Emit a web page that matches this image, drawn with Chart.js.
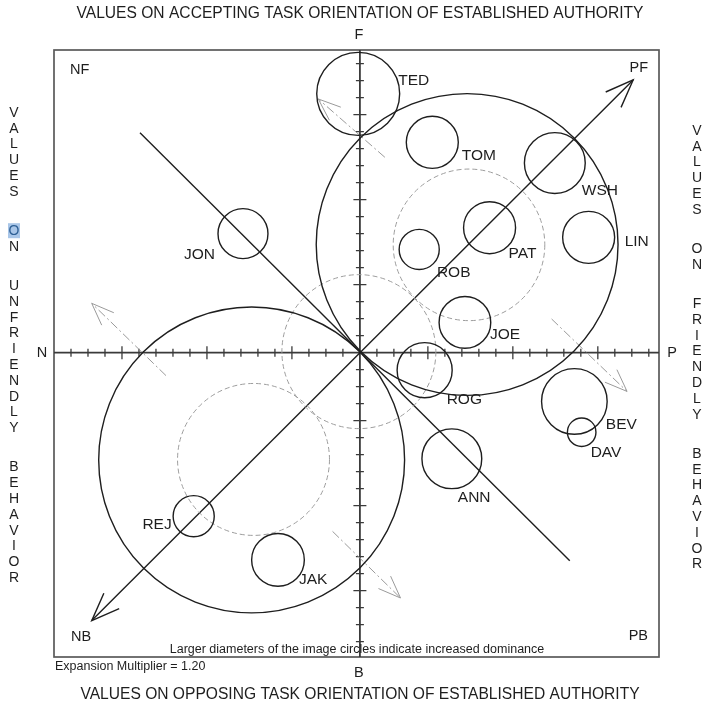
<!DOCTYPE html>
<html>
<head>
<meta charset="utf-8">
<script src="https://cdn.jsdelivr.net/npm/chart.js@4.4.0/dist/chart.umd.min.js"></script>
<style>
  html, body { margin: 0; padding: 0; background: #fff; }
  canvas { display: block; }
</style>
</head>
<body>
<canvas id="field" width="704" height="706"></canvas>
<script>
  // ---------- Data (field units, -18..18) ----------
  const NAMES = ["TED", "TOM", "WSH", "PAT", "LIN", "ROB", "JOE", "ROG", "BEV", "DAV", "ANN", "JON", "REJ", "JAK"];
  const POS_X = [-0.1, 4.26, 11.47, 7.63, 13.46, 3.49, 6.18, 3.81, 12.62, 13.05, 5.41, -6.88, -9.78, -4.82];
  const POS_Y = [15.22, 12.37, 11.15, 7.35, 6.78, 6.07, 1.78, -1.03, -2.87, -4.68, -6.24, 7.0, -9.62, -12.19];
  const SIZE = [2.44, 1.53, 1.79, 1.53, 1.53, 1.18, 1.52, 1.62, 1.93, 0.84, 1.76, 1.47, 1.21, 1.55];

  // the two large reference circles and the dashed inner circles
  const BIG_X = [6.31, -6.37];
  const BIG_Y = [6.36, -6.31];
  const BIG_R = [8.88, 9.0];
  const DASH_X = [6.42, -0.06, -6.26];
  const DASH_Y = [6.34, 0.06, -6.28];
  const DASH_R = [4.46, 4.53, 4.47];

  // lines: [x0, y0, x1, y1]
  const LINE_OPPOSE = [-12.94, 12.94, 12.35, -12.24];
  const ARROW_MAIN = [-15.78, -15.76, 16.08, 16.04];
  const DASH_ARROWS = [
    [-11.41, -1.35, -15.78, 2.9],
    [-1.61, -10.51, 2.39, -14.43],
    [11.28, 1.98, 15.72, -2.28],
    [1.47, 11.49, -2.45, 14.92],
  ];

  const TICK_MINOR = [1, 2, 3, 4, 5, 6, 7, 8, 9, 10, 11, 12, 13, 14, 15, 16, 17];
  const TICK_MAJOR = [4, 9, 14];

  // ---------- Layout (pixels) ----------
  const LABEL_OFF = {
    TED: [40, -13, "left"], TOM: [29.5, 13, "left"], WSH: [27, 27.5, "left"],
    PAT: [19, 26, "left"], LIN: [36, 4, "left"], ROB: [17.7, 23, "left"],
    JOE: [25, 12, "left"], ROG: [22, 30, "left"], BEV: [31.5, 23, "left"],
    DAV: [9, 20.5, "left"], ANN: [6, 39, "left"], JON: [-28, 21, "right"],
    REJ: [-22, 8.5, "right"], JAK: [21, 20, "left"],
  };
  const FONT = "'Liberation Sans', Arial, sans-serif";
  const INK = "#1e1e1e";

  const pts = (xs, ys, rs) => xs.map((x, i) => ({ x, y: ys[i], s: rs[i] }));
  const seg = (a) => [{ x: a[0], y: a[1] }, { x: a[2], y: a[3] }];

  function head(ctx, tx, ty, fx, fy, len, ang) {
    const a = Math.atan2(fy - ty, fx - tx);
    ctx.beginPath();
    ctx.moveTo(tx + len * Math.cos(a + ang), ty + len * Math.sin(a + ang));
    ctx.lineTo(tx, ty);
    ctx.lineTo(tx + len * Math.cos(a - ang), ty + len * Math.sin(a - ang));
    ctx.stroke();
  }

  // rings: circle outlines whose radius is in field units, converted by the x scale
  const ringPlugin = {
    id: "rings",
    afterDatasetDraw(chart, args) {
      const ds = chart.data.datasets[args.index];
      if (!ds.ring) return;
      const sx = chart.scales.x;
      const ctx = chart.ctx;
      ctx.save();
      ctx.strokeStyle = ds.ring.color;
      ctx.lineWidth = ds.ring.width;
      ctx.setLineDash(ds.ring.dash || []);
      args.meta.data.forEach((el, i) => {
        const r = Math.abs(sx.getPixelForValue(ds.data[i].s) - sx.getPixelForValue(0));
        ctx.beginPath();
        ctx.arc(el.x, el.y, r, 0, Math.PI * 2);
        ctx.stroke();
      });
      ctx.restore();
    },
  };

  const framePlugin = {
    id: "frame",
    beforeDatasetsDraw(chart) {
      const { ctx, chartArea: a, scales } = chart;
      const x0 = scales.x.getPixelForValue(0);
      const y0 = scales.y.getPixelForValue(0);
      ctx.save();
      ctx.strokeStyle = "#5a5a5a";
      ctx.lineWidth = 1.7;
      ctx.strokeRect(a.left, a.top, a.right - a.left, a.bottom - a.top);
      ctx.strokeStyle = "#3a3a3a";
      ctx.lineWidth = 1.8;
      ctx.beginPath();
      ctx.moveTo(a.left, y0); ctx.lineTo(a.right, y0);
      ctx.moveTo(x0, a.top); ctx.lineTo(x0, a.bottom);
      ctx.stroke();
      ctx.lineWidth = 1.3;
      ctx.beginPath();
      TICK_MINOR.forEach((v) => {
        const h = TICK_MAJOR.includes(v) ? 6.5 : 4;
        [v, -v].forEach((t) => {
          const px = scales.x.getPixelForValue(t);
          if (px > a.left + 2 && px < a.right - 2) { ctx.moveTo(px, y0 - h); ctx.lineTo(px, y0 + h); }
          const py = scales.y.getPixelForValue(t);
          if (py > a.top + 2 && py < a.bottom - 2) { ctx.moveTo(x0 - h, py); ctx.lineTo(x0 + h, py); }
        });
      });
      ctx.stroke();
      ctx.restore();
    },
    afterDatasetsDraw(chart) {
      const { ctx, chartArea: a, scales } = chart;
      ctx.save();
      // arrowheads
      chart.data.datasets.forEach((ds, i) => {
        if (!ds.arrow) return;
        const p = chart.getDatasetMeta(i).data;
        ctx.strokeStyle = ds.borderColor;
        ctx.lineWidth = ds.borderWidth;
        ctx.setLineDash([]);
        const len = ds.arrow === "both" ? 30 : 24;
        head(ctx, p[1].x, p[1].y, p[0].x, p[0].y, len, 0.37);
        if (ds.arrow === "both") head(ctx, p[0].x, p[0].y, p[1].x, p[1].y, len, 0.37);
      });
      // member labels
      ctx.fillStyle = INK;
      ctx.font = "15.5px " + FONT;
      ctx.textBaseline = "middle";
      const meta = chart.getDatasetMeta(0).data;
      NAMES.forEach((n, i) => {
        const o = LABEL_OFF[n];
        ctx.textAlign = o[2];
        ctx.fillText(n, meta[i].x + o[0], meta[i].y + o[1]);
      });
      // corners and pole letters
      const x0 = scales.x.getPixelForValue(0);
      const y0 = scales.y.getPixelForValue(0);
      ctx.font = "14.5px " + FONT;
      ctx.textAlign = "left";
      ctx.fillText("NF", a.left + 16, a.top + 20);
      ctx.fillText("NB", a.left + 17, a.bottom - 20);
      ctx.textAlign = "right";
      ctx.fillText("PF", a.right - 11, a.top + 18);
      ctx.fillText("PB", a.right - 11, a.bottom - 21);
      ctx.textAlign = "center";
      ctx.fillText("F", x0 - 1, 35);
      ctx.fillText("B", x0 - 1, 673);
      ctx.fillText("N", 42, y0);
      ctx.fillText("P", 672, y0);
      ctx.font = "12.5px " + FONT;
      ctx.fillText("Larger diameters of the image circles indicate increased dominance", 357, a.bottom - 7);
      ctx.textAlign = "left";
      ctx.fillText("Expansion Multiplier = 1.20", 55, 667);
      // titles
      ctx.textAlign = "center";
      ctx.font = "15.6px " + FONT;
      ctx.fillText("VALUES ON ACCEPTING TASK ORIENTATION OF ESTABLISHED AUTHORITY", 360, 14);
      ctx.fillText("VALUES ON OPPOSING TASK ORIENTATION OF ESTABLISHED AUTHORITY", 360, 695);
      // stacked side titles
      ctx.font = "14px " + FONT;
      const stack = (words, x, y) => {
        words.forEach((w, wi) => {
          for (const ch of w) {
            if (wi === 1 && ch === "O" && x < 100) {
              ctx.fillStyle = "#a9c6e8";
              ctx.fillRect(x - 6, y - 8, 12, 15);
              ctx.fillStyle = "#2d5f94";
              ctx.fillText(ch, x, y);
              ctx.fillStyle = INK;
            } else ctx.fillText(ch, x, y);
            y += 15.8;
          }
          y += 23.4;
        });
      };
      stack(["VALUES", "ON", "UNFRIENDLY", "BEHAVIOR"], 14, 113);
      stack(["VALUES", "ON", "FRIENDLY", "BEHAVIOR"], 697, 131);
      ctx.restore();
    },
  };

  const ringDs = (label, data, color, width, dash) => ({
    label,
    data,
    radius: 0,
    hoverRadius: 0,
    backgroundColor: "rgba(0,0,0,0)",
    borderColor: color,
    borderWidth: 0,
    clip: false,
    ring: { color, width, dash },
  });

  const lineDs = (a, color, width, dash, arrow) => ({
    type: "line",
    data: seg(a),
    borderColor: color,
    borderWidth: width,
    borderDash: dash,
    pointRadius: 0,
    fill: false,
    tension: 0,
    clip: false,
    arrow,
  });

  new Chart(document.getElementById("field"), {
    type: "bubble",
    data: {
      datasets: [
        ringDs("members", pts(POS_X, POS_Y, SIZE), INK, 1.4, null),
        ringDs("reference", pts(BIG_X, BIG_Y, BIG_R), INK, 1.4, null),
        ringDs("inner", pts(DASH_X, DASH_Y, DASH_R), "#9d9d9d", 1, [5, 3]),
        lineDs(LINE_OPPOSE, INK, 1.4, [], null),
        lineDs(ARROW_MAIN, INK, 1.4, [], "both"),
        ...DASH_ARROWS.map((a) => lineDs(a, "#9a9a9a", 1, [9, 3, 2, 3], "end")),
      ],
    },
    options: {
      responsive: false,
      animation: false,
      events: [],
      layout: { padding: { left: 54, right: 45, top: 50, bottom: 49 } },
      scales: {
        x: { type: "linear", min: -18, max: 17.6, display: false },
        y: { type: "linear", min: -17.9, max: 17.8, display: false },
      },
      plugins: { legend: { display: false }, tooltip: { enabled: false } },
    },
    plugins: [ringPlugin, framePlugin],
  });
</script>
</body>
</html>
